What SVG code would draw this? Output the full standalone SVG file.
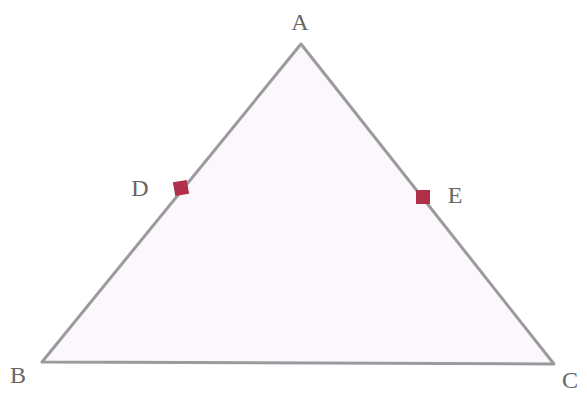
<svg xmlns="http://www.w3.org/2000/svg" width="587" height="393" viewBox="0 0 587 393">
<style>
.lbl{font-family:"Liberation Serif",serif;font-size:24px;fill:#666;}
.pt{fill:#b0304a;}
</style>
<rect width="587" height="393" fill="#ffffff"/>
<g id="triangle">
<polygon points="301,44 42,362 554,364" fill="#fbf7fb" stroke="#9a9a9f" stroke-width="3" stroke-linejoin="round"/>
</g>
<g id="A"><text class="lbl" x="300" y="30" text-anchor="middle">A</text></g>
<g id="B"><text class="lbl" x="18" y="383" text-anchor="middle">B</text></g>
<g id="C"><text class="lbl" x="570" y="388" text-anchor="middle">C</text></g>
<g id="D"><rect class="pt" x="174" y="181" width="14" height="14" transform="rotate(-10 181 188)"/><text class="lbl" x="140" y="196" text-anchor="middle">D</text></g>
<g id="E"><rect class="pt" x="416" y="190" width="14" height="14"/><text class="lbl" x="455" y="203" text-anchor="middle">E</text></g>
</svg>
